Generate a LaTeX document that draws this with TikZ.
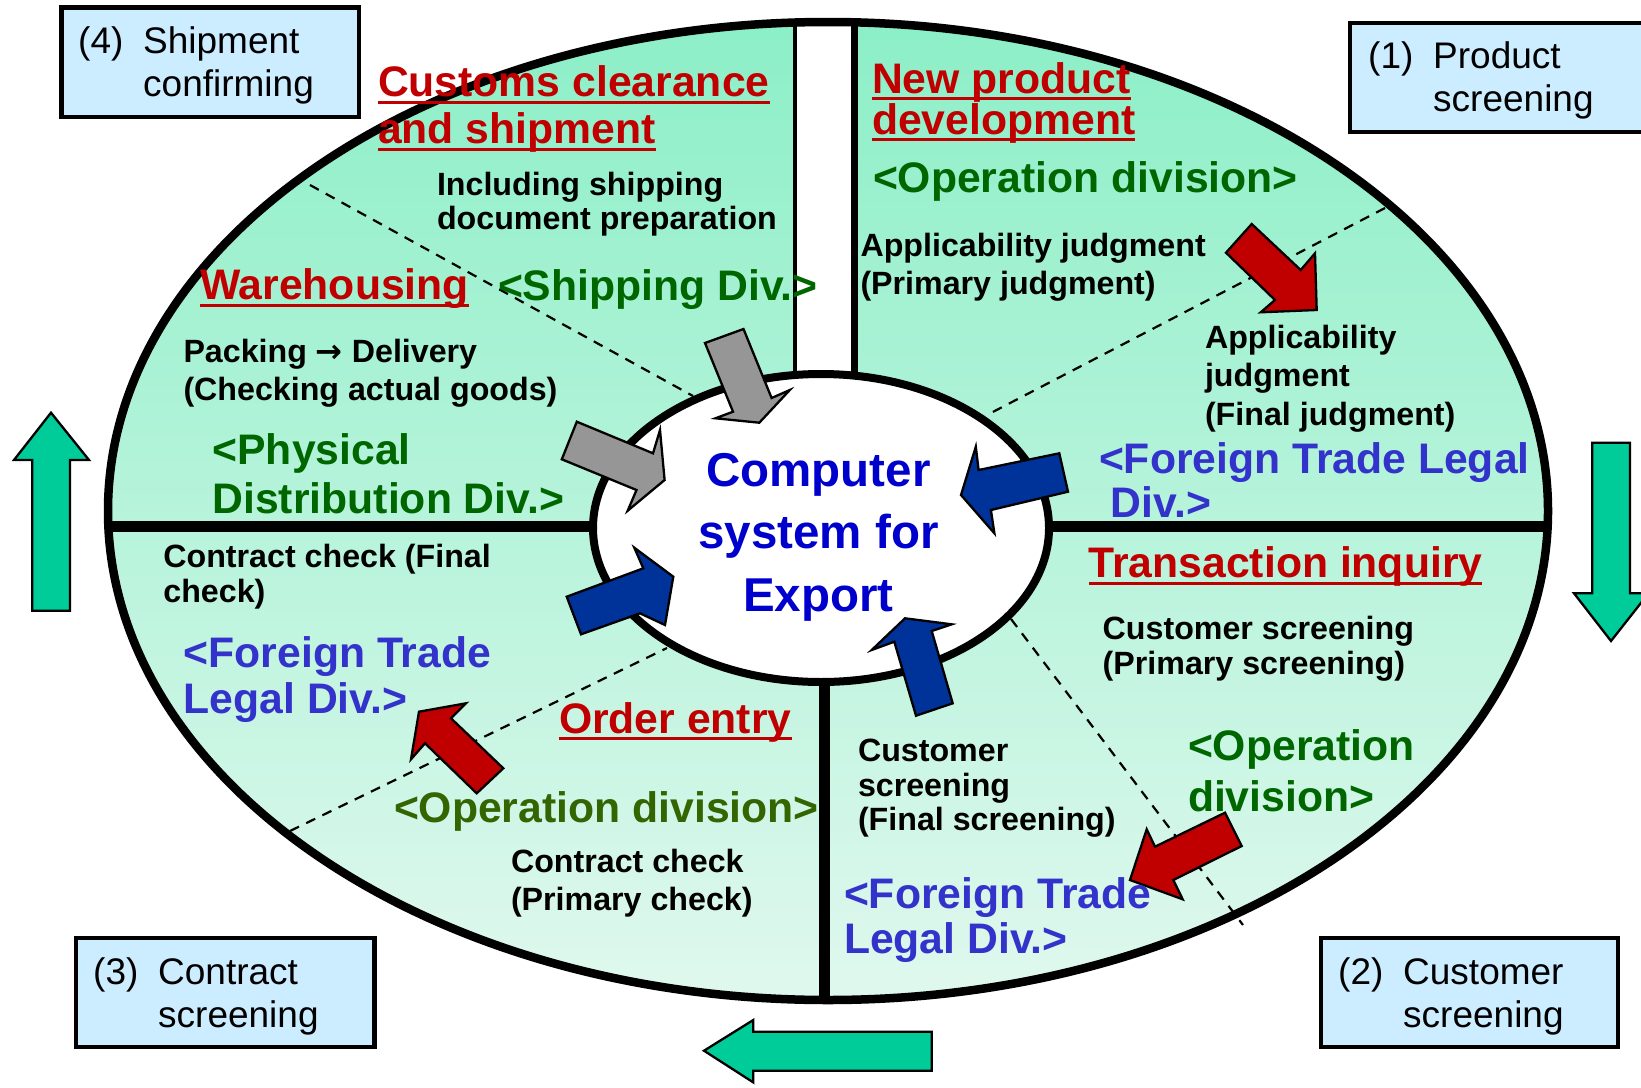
\documentclass[tikz,border=0pt]{standalone}
\usepackage{fontspec}
\setmainfont{Liberation Sans}
\newfontfamily\arrowfont{DejaVu Sans}
\definecolor{redT}{RGB}{192,0,0}
\definecolor{greenT}{RGB}{0,102,0}
\definecolor{oliveT}{RGB}{51,102,0}
\definecolor{blueT}{RGB}{51,51,204}
\definecolor{blueC}{RGB}{0,0,204}
\definecolor{boxfill}{RGB}{204,236,255}
\definecolor{arrowgreen}{RGB}{0,204,153}
\definecolor{arrowblue}{RGB}{0,51,153}
\definecolor{arrowred}{RGB}{192,0,0}
\definecolor{arrowgray}{RGB}{150,150,150}
\definecolor{ringtop}{RGB}{140,239,199}
\definecolor{ringbot}{RGB}{224,248,238}
\newcommand\tbl[1]{\vtop{\halign{##\hfil\cr#1\crcr}}}
\newcommand\tbc[1]{\vtop{\halign{\hfil##\hfil\cr#1\crcr}}}
\newcommand\redul[1]{\setbox0=\hbox{#1}\rlap{\rule[-0.165em]{\wd0}{0.07em}}\box0}
\tikzset{
  txt/.style={anchor=base west, inner sep=0pt, outer sep=0pt},
  bigf/.style={font=\fontsize{42.7}{#1}\selectfont\bfseries},
  smallf/.style={font=\fontsize{32.2}{#1}\selectfont\bfseries},
  boxtxt/.style={anchor=base west, inner sep=0pt, font=\fontsize{37}{43}\selectfont},
  stepbox/.style={draw=black, line width=4.5pt, fill=boxfill},
  blockarrow/.style={draw=black, line width=2.3pt, line join=miter},
  sepline/.style={draw=black, line width=2.2pt, dash pattern=on 10pt off 8pt},
  divider/.style={draw=black, line width=11pt},
}
\begin{document}
\begin{tikzpicture}[x=1pt,y=-1pt]
\useasboundingbox (0,0) rectangle (1641,1087);
% ring
\shade[top color=ringtop, bottom color=ringbot] (828,511) ellipse [x radius=720pt, y radius=489pt];
\begin{scope}
  \clip (828,511) ellipse [x radius=720pt, y radius=489pt];
  \draw[divider] (90,526) -- (620,526);
  \draw[divider] (1020,526) -- (1570,526);
  \draw[divider] (824.5,660) -- (824.5,1020);
  \fill[white] (795,5) rectangle (854,385);
  \draw[black, line width=3.5pt] (795,5) -- (795,385);
  \draw[black, line width=7pt] (854,5) -- (854,385);
\end{scope}
\draw[sepline] (310,185) -- (693,396);
\draw[sepline] (1385,208) -- (987,415);
\draw[sepline] (290,831) -- (667,648);
\draw[sepline] (1011,619) -- (1243,925);
\draw[black, line width=8pt, fill=white] (821,528) ellipse [x radius=228pt, y radius=154pt];
\draw[black, line width=8.5pt] (828,511) ellipse [x radius=720pt, y radius=489pt];
% block arrows
\draw[blockarrow, fill=arrowgray] (705,343) -- (743.5,329) -- (771.6,398) -- (789.8,390) -- (759.3,422.7) -- (715.4,418.3) -- (733,411.7) -- cycle;
\draw[blockarrow, fill=arrowgray] (576.8,421.7) -- (653,453.3) -- (660,430) -- (664.6,480) -- (627.7,510.7) -- (636.5,490) -- (561.8,459.3) -- cycle;
\draw[blockarrow, fill=arrowblue] (1059.3,453.3) -- (978.6,470) -- (975.8,446.7) -- (961,495) -- (994.4,533.3) -- (990.9,510) -- (1068,491.7) -- cycle;
\draw[blockarrow, fill=arrowblue] (566.7,596.7) -- (643.3,568.3) -- (634.3,547.7) -- (673.3,576.7) -- (665,625) -- (640,613.3) -- (581,634.3) -- cycle;
\draw[blockarrow, fill=arrowblue] (916,715.7) -- (894.3,641.7) -- (871.7,650) -- (905,618.3) -- (951.7,624.3) -- (931.7,631) -- (952.7,703.3) -- cycle;
\draw[blockarrow, fill=arrowred] (1251.7,224) -- (1300.7,270) -- (1315,253.3) -- (1316.7,310) -- (1260.7,312.3) -- (1275,300) -- (1226,252.7) -- cycle;
\draw[blockarrow, fill=arrowred] (503.3,768.3) -- (451,718.3) -- (466,703.3) -- (419,711.7) -- (411,759.3) -- (425,743.3) -- (476.7,793.3) -- cycle;
\draw[blockarrow, fill=arrowred] (1225,812.7) -- (1155,846.7) -- (1146.7,829.3) -- (1130,880) -- (1182.7,899.3) -- (1173.3,880) -- (1241.7,846) -- cycle;
% red titles
\node[txt, bigf=47, text=redT] (customs) at (378,96.6) {\tbl{\redul{Customs clearance}\cr\redul{and shipment}}};
\node[txt, bigf=41, text=redT] (newprod) at (872,93) {\tbl{\redul{New product}\cr\redul{development}}};
\node[txt, bigf=47, text=redT] (wareh) at (200,299.6) {\redul{Warehousing}};
\node[txt, bigf=47, text=redT] (order) at (559,733.4) {\redul{Order entry}};
\node[txt, bigf=47, text=redT] (trans) at (1088.5,577.8) {\redul{Transaction inquiry}};
% division labels
\node[txt, bigf=47, text=greenT] (op1) at (873,192) {<Operation division>};
\node[txt, bigf=47, text=greenT] (ship) at (498,300) {<Shipping Div.>};
\node[txt, bigf=49.7, text=greenT] (phys) at (212.5,464) {\tbl{<Physical\cr Distribution Div.>}};
\node[txt, bigf=47, text=oliveT] (op3) at (394,822) {<Operation division>};
\node[txt, bigf=51, text=greenT] (op2) at (1188,760) {\tbl{<Operation\cr division>}};
\node[txt, bigf=44, text=blueT] (ftl1) at (1099,473.4) {\tbl{<Foreign Trade Legal\cr\hspace*{0.278em}Div.>}};
\node[txt, bigf=46, text=blueT] (ftl3) at (183.7,667) {\tbl{<Foreign Trade\cr Legal Div.>}};
\node[txt, bigf=45.5, text=blueT] (ftl2) at (844,908) {\tbl{<Foreign Trade\cr Legal Div.>}};
% task texts
\node[txt, smallf=34] (incl) at (437,195) {\tbl{Including shipping\cr document preparation}};
\node[txt, smallf=38.5] (pack) at (183.5,362) {\tbl{Packing {\arrowfont →} Delivery\cr (Checking actual goods)}};
\node[txt, smallf=38] (appl1) at (860.5,256.5) {\tbl{Applicability judgment\cr (Primary judgment)}};
\node[txt, smallf=38.5] (appl2) at (1205,348) {\tbl{Applicability\cr judgment\cr (Final judgment)}};
\node[txt, smallf=34.5] (cc1) at (163.4,567.5) {\tbl{Contract check (Final\cr check)}};
\node[txt, smallf=38] (cc2) at (511,872) {\tbl{Contract check\cr (Primary check)}};
\node[txt, smallf=35] (cs1) at (1102.7,639) {\tbl{Customer screening\cr (Primary screening)}};
\node[txt, smallf=34.5] (cs2) at (858,761.5) {\tbl{Customer\cr screening\cr (Final screening)}};
% center
\node[anchor=base, inner sep=0pt, font=\fontsize{47.5}{62.5}\selectfont\bfseries, text=blueC] (core) at (818.5,486) {\tbc{Computer\cr system for\cr Export}};
% step boxes
\draw[stepbox] (61.5,7.7) rectangle (359,117);
\draw[stepbox] (1350,23) rectangle (1670,132);
\draw[stepbox] (75.8,938) rectangle (374.5,1047);
\draw[stepbox] (1321,938) rectangle (1618,1047);
\node[boxtxt] (t4) at (78,53) {\tbl{\makebox[65pt][l]{(4)}Shipment\cr\hspace*{65pt}confirming}};
\node[boxtxt] (t1) at (1368,68.5) {\tbl{\makebox[65pt][l]{(1)}Product\cr\hspace*{65pt}screening}};
\node[boxtxt] (t3) at (93,984) {\tbl{\makebox[65pt][l]{(3)}Contract\cr\hspace*{65pt}screening}};
\node[boxtxt] (t2) at (1338,984) {\tbl{\makebox[65pt][l]{(2)}Customer\cr\hspace*{65pt}screening}};
% cycle arrows
\draw[blockarrow, fill=arrowgreen] (32.3,610.7) -- (32.3,460) -- (14,460) -- (51,412.7) -- (89,460) -- (70,460) -- (70,610.7) -- cycle;
\draw[blockarrow, fill=arrowgreen] (1592.3,442.7) -- (1630,442.7) -- (1630,593.3) -- (1648.5,593.3) -- (1611,641) -- (1574,593.3) -- (1592.3,593.3) -- cycle;
\draw[blockarrow, fill=arrowgreen] (931.7,1031.7) -- (753.3,1031.7) -- (753.3,1020) -- (704,1050.7) -- (753.3,1082.4) -- (753.3,1070.7) -- (931.7,1070.7) -- cycle;
\end{tikzpicture}
\end{document}
